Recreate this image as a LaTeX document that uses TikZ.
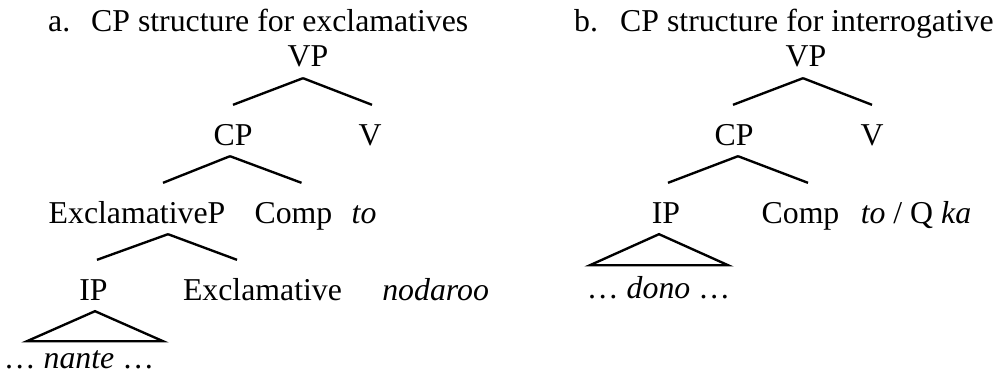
\documentclass[tikz,border=0pt]{standalone}
\usepackage{fontspec}
\setmainfont{Liberation Serif}
\usetikzlibrary{positioning,calc}

\begin{document}
\begin{tikzpicture}[x=0.02cm, y=-0.02cm, line width=1.35pt,
  font=\fontsize{18.1}{22}\selectfont,
  every node/.style={inner sep=0pt, text height=0.78cm, text depth=0.2cm, anchor=base}]
  \useasboundingbox (0,0) rectangle (996,385);

  % Tree a: labels
  \node [anchor=base west] (numA) at (47,32) {a.};
  \node [anchor=base west] (titleA) at (90,32) {CP structure for exclamatives};
  \node (vpA) at (308,67) {VP};
  \node (cpA) at (233,145) {CP};
  \node (vA) at (370,145) {V};
  \node (exPA) at (137,223) {ExclamativeP};
  \node (compA) at (293.5,223) {Comp};
  \node [base right=0.34cm of compA] (toA) {\textit{to}};
  \node (ipA) at (93.5,300) {IP};
  \node (exA) at (262.5,300) {Exclamative};
  \node [base right=0.76cm of exA] (nodA) {\textit{nodaroo}};
  \node (nanteA) at (79,368) {\ldots\ \textit{nante} \ldots};

  % Tree a: branches
  \draw ($(vpA.south)+(-5,0)$) -- (cpA.north);
  \draw ($(vpA.south)+(-5,0)$) -- ($(vA.north)+(2,0)$);
  \draw ($(cpA.south)+(-3,0)$) -- ($(exPA.north)+(26,0)$);
  \draw ($(cpA.south)+(-3,0)$) -- ($(compA.north)+(8,0)$);
  \draw ($(exPA.south)+(31,0)$) -- ($(ipA.north)+(3.5,0)$);
  \draw ($(exPA.south)+(31,0)$) -- ($(exA.north)+(-25.5,0)$);
  \draw ($(ipA.south)+(1.5,0)$) -- ++(-68,30) -- ++(136,0) -- cycle;

  % Tree b: labels
  \node [anchor=base west] (numB) at (573,32) {b.};
  \node [anchor=base west] (titleB) at (619,32) {CP structure for interrogative};
  \node (vpB) at (806,67) {VP};
  \node (cpB) at (734,145) {CP};
  \node (vB) at (872,145) {V};
  \node (ipB) at (666,223) {IP};
  \node (compB) at (800.5,223) {Comp};
  \node [base right=0.38cm of compB] (toB) {\textit{to} / Q \textit{ka}};
  \node (donoB) at (658.5,298) {\ldots\ \textit{dono} \ldots};

  % Tree b: branches
  \draw ($(vpB.south)+(-3,0)$) -- ($(cpB.north)+(-1,0)$);
  \draw ($(vpB.south)+(-3,0)$) -- (vB.north);
  \draw ($(cpB.south)+(4,0)$) -- ($(ipB.north)+(2,0)$);
  \draw ($(cpB.south)+(4,0)$) -- ($(compB.north)+(7.5,0)$);
  \draw ($(ipB.south)+(-7,0)$) -- ++(-69,31) -- ++(138,0) -- cycle;
\end{tikzpicture}
\end{document}
